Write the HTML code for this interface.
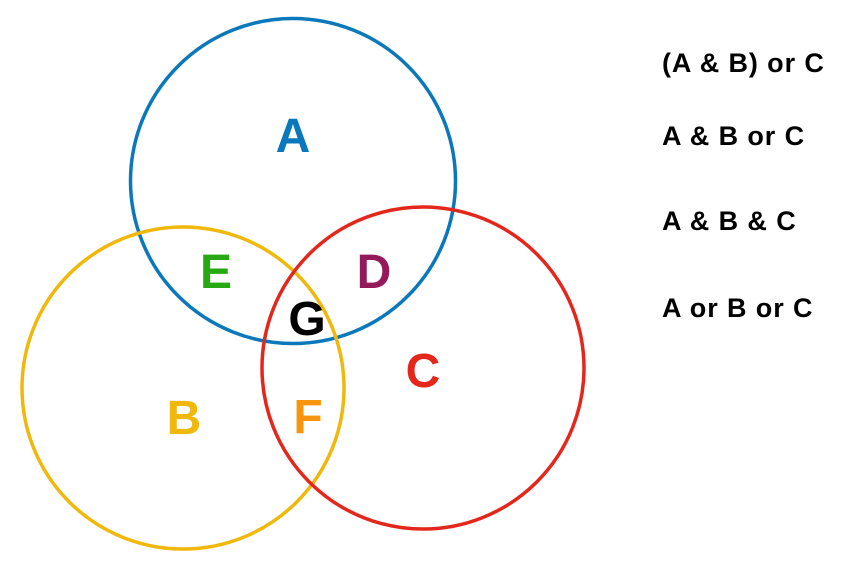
<!DOCTYPE html>
<html><head><meta charset="utf-8"><style>
html,body{margin:0;padding:0;background:#fff;width:850px;height:574px;overflow:hidden}
svg{display:block}
text{font-family:"Liberation Sans",Arial,sans-serif;font-weight:bold}
</style></head><body>
<svg width="850" height="574" viewBox="0 0 850 574">
<circle cx="293" cy="181" r="162.5" fill="none" stroke="#0a78bb" stroke-width="3.5"/>
<circle cx="183" cy="388" r="161" fill="none" stroke="#f1b80c" stroke-width="3.5"/>
<circle cx="423" cy="368" r="161" fill="none" stroke="#e4271b" stroke-width="3.5"/>
<g font-size="48" text-anchor="middle">
<text x="293" y="152" fill="#0a78bb">A</text>
<text x="216" y="288" fill="#27a914">E</text>
<text x="374" y="288" fill="#951a5c">D</text>
<text x="307" y="335" fill="#000">G</text>
<text x="423" y="387" fill="#e4271b">C</text>
<text x="184" y="434" fill="#f1b80c">B</text>
<text x="308" y="433" fill="#f7960e">F</text>
</g>
<g font-size="27" fill="#000" letter-spacing="0.9">
<text x="662" y="72">(A &amp; B) or C</text>
<text x="662" y="145">A &amp; B or C</text>
<text x="662" y="230">A &amp; B &amp; C</text>
<text x="662" y="317">A or B or C</text>
</g>
</svg>
</body></html>
